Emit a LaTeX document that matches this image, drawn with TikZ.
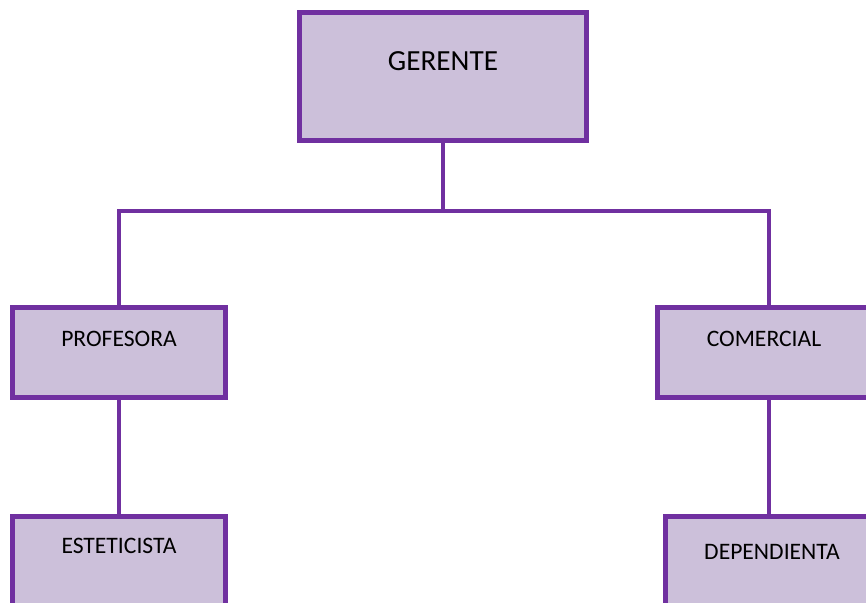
\documentclass[tikz,border=0pt]{standalone}
\usepackage{fontspec}
\setmainfont{Carlito}
\usetikzlibrary{calc,positioning}
\definecolor{orgline}{HTML}{7030A0}
\definecolor{orgfill}{HTML}{CCC0DA}
\tikzset{
	puesto/.style={draw=orgline,fill=orgfill,line width=2.5pt,inner xsep=0pt,inner ysep=0pt,outer sep=0pt,anchor=north west,minimum width=106.5pt,font=\fontsize{11.8}{14}\selectfont},
	enlace/.style={draw=orgline,line width=2.3pt},
}

\begin{document}
\begin{tikzpicture}[x=0.5pt,y=-0.5pt]
		\useasboundingbox (0,0) rectangle (866,602);
		\clip (0,0) rectangle (866,602);
		\node[puesto,minimum width=143.5pt,text height=28.75pt,text depth=35pt,font=\fontsize{14.6}{17}\selectfont] (gerente) at (299.5,12.5) {GERENTE};
		\node[puesto,text height=19.25pt,text depth=25.75pt] (profesora) at (12.5,307.5) {PROFESORA};
		\node[puesto,text height=19.25pt,text depth=25.75pt] (comercial) at (657.5,307.5) {COMERCIAL};
		\node[puesto,text height=18.25pt,text depth=27pt] (esteticista) at (12.5,516.5) {ESTETICISTA};
		\node[puesto,text height=21.25pt,text depth=24pt] (dependienta) at (665.5,516.5) {DEPENDIENTA};
		\path
			(443,211) coordinate (bus-c)
			(119,211) coordinate (bus-l)
			(769,211) coordinate (bus-r)
			;
		\draw[enlace] (gerente.south) -- (bus-c);
		\draw[enlace] (profesora.north) -- (bus-l) -- (bus-r) -- (bus-r |- comercial.north);
		\draw[enlace] (profesora.south) -- (esteticista.north);
		\draw[enlace] (bus-r |- comercial.south) -- (bus-r |- dependienta.north);
	\end{tikzpicture}
\end{document}
